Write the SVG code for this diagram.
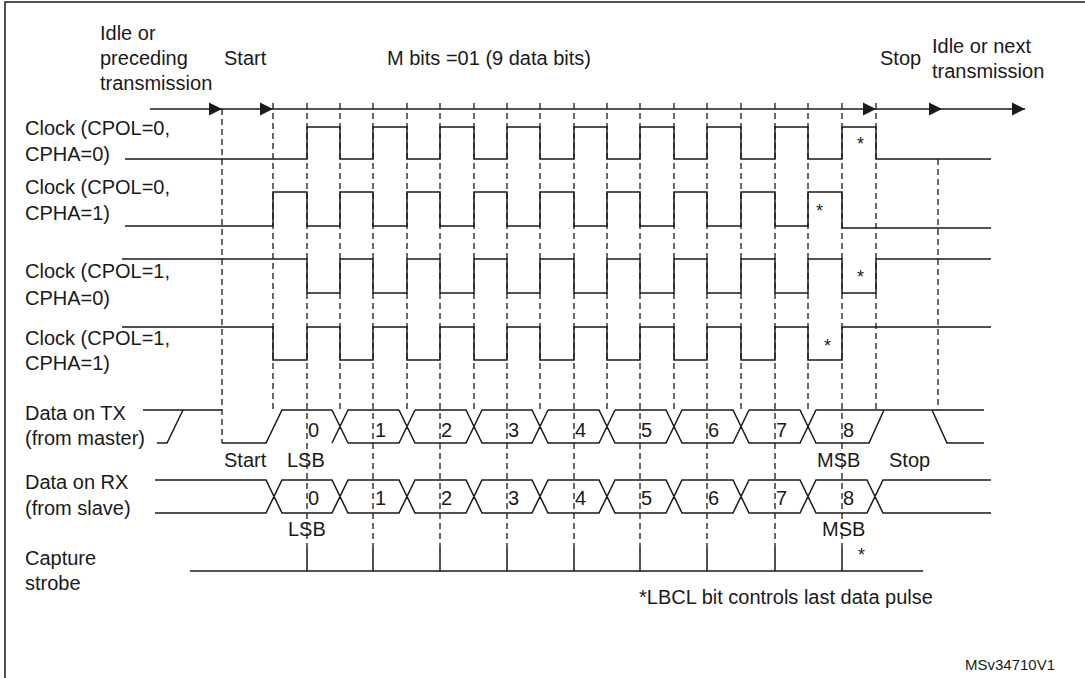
<svg xmlns="http://www.w3.org/2000/svg" width="1085" height="678" viewBox="0 0 1085 678">
<style>
text{font-family:"Liberation Sans",Arial,sans-serif;font-size:20px;fill:#1a1a1a}
.s{font-size:15px}
.st{font-size:18px}
.w{fill:none;stroke:#1a1a1a;stroke-width:1.5}
.d{fill:none;stroke:#1a1a1a;stroke-width:1.3;stroke-dasharray:6 4}
.a{fill:#1a1a1a}
</style>
<rect width="1085" height="678" fill="#fff"/>
<path class="w" d="M5,678 V2 H1085" stroke-width="2"/>
<g id="labels">
<text x="100" y="40">Idle or</text>
<text x="100" y="65">preceding</text>
<text x="100" y="90">transmission</text>
<text x="224" y="65">Start</text>
<text x="387" y="65">M bits =01 (9 data bits)</text>
<text x="880" y="65">Stop</text>
<text x="932" y="53">Idle or next</text>
<text x="932" y="78">transmission</text>
<text x="25" y="135">Clock (CPOL=0,</text>
<text x="25" y="161">CPHA=0)</text>
<text x="25" y="194">Clock (CPOL=0,</text>
<text x="25" y="220">CPHA=1)</text>
<text x="25" y="278">Clock (CPOL=1,</text>
<text x="25" y="305">CPHA=0)</text>
<text x="25" y="345">Clock (CPOL=1,</text>
<text x="25" y="370">CPHA=1)</text>
<text x="25" y="420">Data on TX</text>
<text x="25" y="445">(from master)</text>
<text x="25" y="489">Data on RX</text>
<text x="25" y="515">(from slave)</text>
<text x="25" y="565">Capture</text>
<text x="25" y="590">strobe</text>
<text x="224" y="467">Start</text>
<text x="287" y="467">LSB</text>
<text x="817" y="467">MSB</text>
<text x="889" y="467">Stop</text>
<text x="288" y="536">LSB</text>
<text x="822" y="536">MSB</text>
<text x="639" y="604">*LBCL bit controls last data pulse</text>
<text class="s" x="965" y="670">MSv34710V1</text>
<text class="st" x="857" y="150">*</text>
<text class="st" x="816" y="217">*</text>
<text class="st" x="857" y="283">*</text>
<text class="st" x="824" y="352">*</text>
<text class="st" x="858" y="561">*</text>
</g>
<g id="digits">
<text x="308" y="437">0</text><text x="375" y="437">1</text><text x="441" y="437">2</text><text x="508" y="437">3</text><text x="575" y="437">4</text><text x="641" y="437">5</text><text x="708" y="437">6</text><text x="776" y="437">7</text><text x="843" y="437">8</text>
<text x="308" y="505">0</text><text x="375" y="505">1</text><text x="441" y="505">2</text><text x="508" y="505">3</text><text x="575" y="505">4</text><text x="641" y="505">5</text><text x="708" y="505">6</text><text x="776" y="505">7</text><text x="843" y="505">8</text>
</g>
<g id="connectors">
<path class="w" d="M150,109 H1025"/>
<path class="a" d="M222,109 l-13,-6.5 v13 z M273,109 l-13,-6.5 v13 z M876,109 l-13,-6.5 v13 z M942,109 l-13,-6.5 v13 z M1025,109 l-13,-6.5 v13 z"/>
<path class="d" d="M222,109 V443 M273,103 V410 M340,103 V410 M407,103 V410 M474,103 V410 M540,103 V410 M607,103 V410 M674,103 V410 M741,103 V410 M808,103 V410 M876,103 V410 M938,159 V410"/>
<path class="d" d="M307,103 V547 M373,103 V547 M440,103 V547 M507,103 V547 M574,103 V547 M640,103 V547 M707,103 V547 M775,103 V547 M842,103 V547"/>
</g>
<g id="clk1"><polyline class="w" points="125,159 307,159 307,127 340,127 340,159 373,159 373,127 407,127 407,159 440,159 440,127 474,127 474,159 507,159 507,127 540,127 540,159 574,159 574,127 607,127 607,159 640,159 640,127 674,127 674,159 707,159 707,127 741,127 741,159 775,159 775,127 808,127 808,159 842,159 842,127 876,127 876,159 991,159"/></g>
<g id="clk2"><polyline class="w" points="125,226 273,226 273,192 307,192 307,226 340,226 340,192 373,192 373,226 407,226 407,192 440,192 440,226 474,226 474,192 507,192 507,226 540,226 540,192 574,192 574,226 607,226 607,192 640,192 640,226 674,226 674,192 707,192 707,226 741,226 741,192 775,192 775,226 808,226 808,192 842,192 842,228 991,228"/></g>
<g id="clk3"><polyline class="w" points="122,259 307,259 307,293 340,293 340,259 373,259 373,293 407,293 407,259 440,259 440,293 474,293 474,259 507,259 507,293 540,293 540,259 574,259 574,293 607,293 607,259 640,259 640,293 674,293 674,259 707,259 707,293 741,293 741,259 775,259 775,293 808,293 808,259 842,259 842,293 876,293 876,259 991,259"/></g>
<g id="clk4"><polyline class="w" points="122,327 273,327 273,360 307,360 307,327 340,327 340,360 373,360 373,327 407,327 407,360 440,360 440,327 474,327 474,360 507,360 507,327 540,327 540,360 574,360 574,327 607,327 607,360 640,360 640,327 674,327 674,360 707,360 707,327 741,327 741,360 775,360 775,327 808,327 808,360 842,360 842,327 991,327"/></g>
<g id="tx">
<path class="w" d="M143,410 H222 M157,443 H167 L183,410 M222,443 H266 L282,410 H332 M332,410 L348,443 M332,443 L348,410 H399 M348,443 H399 L415,410 M399,410 L415,443 H466 L482,410 M415,410 H466 L482,443 H532 L548,410 M482,410 H532 L548,443 H599 L615,410 M548,410 H599 L615,443 H666 L682,410 M615,410 H666 L682,443 H733 L749,410 M682,410 H733 L749,443 H800 L816,410 H984 M749,410 H800 L816,443 H869 L884,410 M932,410 L947,443 H984"/>
</g>
<g id="rx">
<path class="w" d="M155,480 H266 L282,513 H332 L348,480 H399 L415,513 H466 L482,480 H532 L548,513 H599 L615,480 H666 L682,513 H733 L749,480 H800 L816,513 H867 L883,480 H991 M155,513 H266 L282,480 H332 L348,513 H399 L415,480 H466 L482,513 H532 L548,480 H599 L615,513 H666 L682,480 H733 L749,513 H800 L816,480 H867 L883,513 H991"/>
</g>
<g id="strobe">
<path class="w" d="M190,571 H923 M307,547 V571 M373,547 V571 M440,547 V571 M507,547 V571 M574,547 V571 M640,547 V571 M707,547 V571 M775,547 V571 M842,547 V571"/>
</g>
</svg>
